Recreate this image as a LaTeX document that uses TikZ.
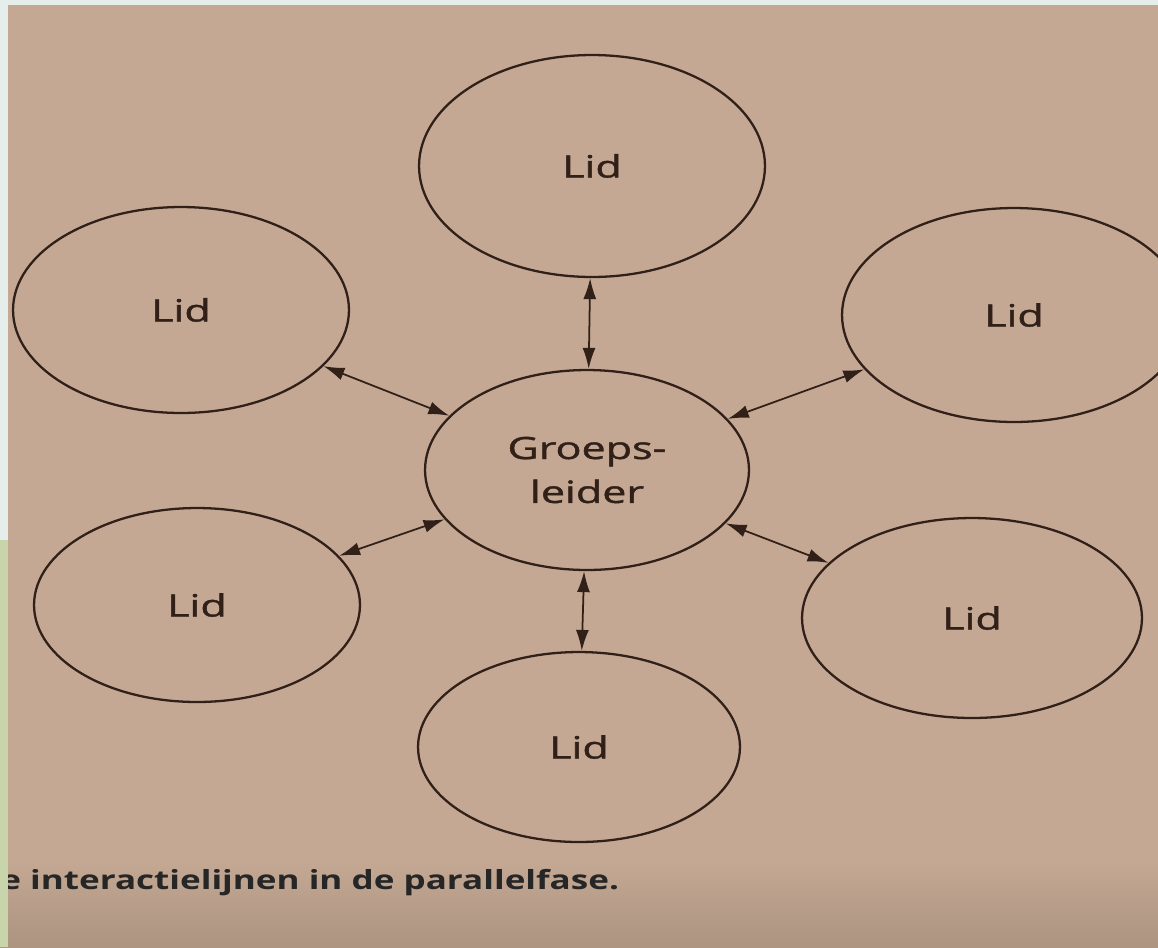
\documentclass[tikz,border=0pt]{standalone}
\usepackage{fontspec}
\setsansfont{Open Sans}
\newfontfamily\lidfont{Open Sans}[FakeBold=1.2]
\usepackage{graphicx}
\usetikzlibrary{shapes.geometric,arrows.meta}
\definecolor{papier}{RGB}{196,168,148}
\definecolor{papierdonker}{RGB}{172,148,128}
\definecolor{rand}{RGB}{230,238,236}
\definecolor{randgroen}{RGB}{200,212,170}
\definecolor{inkt}{RGB}{48,32,24}
\newcommand{\breed}[1]{\scalebox{1.4}[1]{#1}}
\begin{document}
\begin{tikzpicture}[x=0.02cm,y=-0.02cm,
	lid/.style={ellipse,draw=inkt,line width=1.3pt,inner sep=0pt,text=inkt,font=\lidfont\fontsize{17.5}{25}\selectfont,align=center},
	pijl/.style={draw=inkt,line width=1pt,{Latex[length=0.42cm,width=0.26cm]}-{Latex[length=0.42cm,width=0.26cm]}}]
	\useasboundingbox (0,0) rectangle (1158,947);
	\clip (0,0) rectangle (1158,947);
	% pagina
	\fill [papier] (0,0) rectangle (1158,860);
	\shade [top color=papier,bottom color=papierdonker] (0,860) rectangle (1158,947);
	\fill [rand] (0,0) rectangle (1158,5);
	\fill [rand] (0,0) rectangle (8,540);
	% cirkels
	\node[lid,minimum width=6.48cm,minimum height=4cm] (leider) at (587,470) {\breed{Groeps-}\\\breed{leider}};
	\node[lid,minimum width=6.92cm,minimum height=4.44cm] (lidN) at (592,166) {\breed{Lid}};
	\node[lid,minimum width=6.72cm,minimum height=4.12cm] (lidNW) at (181,310) {\breed{Lid}};
	\node[lid,minimum width=6.88cm,minimum height=4.28cm] (lidNE) at (1014,315) {\breed{Lid}};
	\node[lid,minimum width=6.52cm,minimum height=3.88cm] (lidSW) at (197,605) {\breed{Lid}};
	\node[lid,minimum width=6.8cm,minimum height=4cm] (lidSE) at (972,618) {\breed{Lid}};
	\node[lid,minimum width=6.44cm,minimum height=3.8cm] (lidS) at (579,747) {\breed{Lid}};
	% interactielijnen
	\foreach \l in {lidN,lidNW,lidNE,lidSW,lidSE,lidS}
	\draw[pijl] (leider) -- (\l);
	\node[anchor=base west,inner sep=0pt,text=black!85,font=\sffamily\bfseries\fontsize{15}{18}\selectfont] (onderschrift) at (0,889) {\scalebox{1.33}[1]{e interactielijnen in de parallelfase.}};
	\fill [randgroen] (0,540) rectangle (8,947);
\end{tikzpicture}
\end{document}
